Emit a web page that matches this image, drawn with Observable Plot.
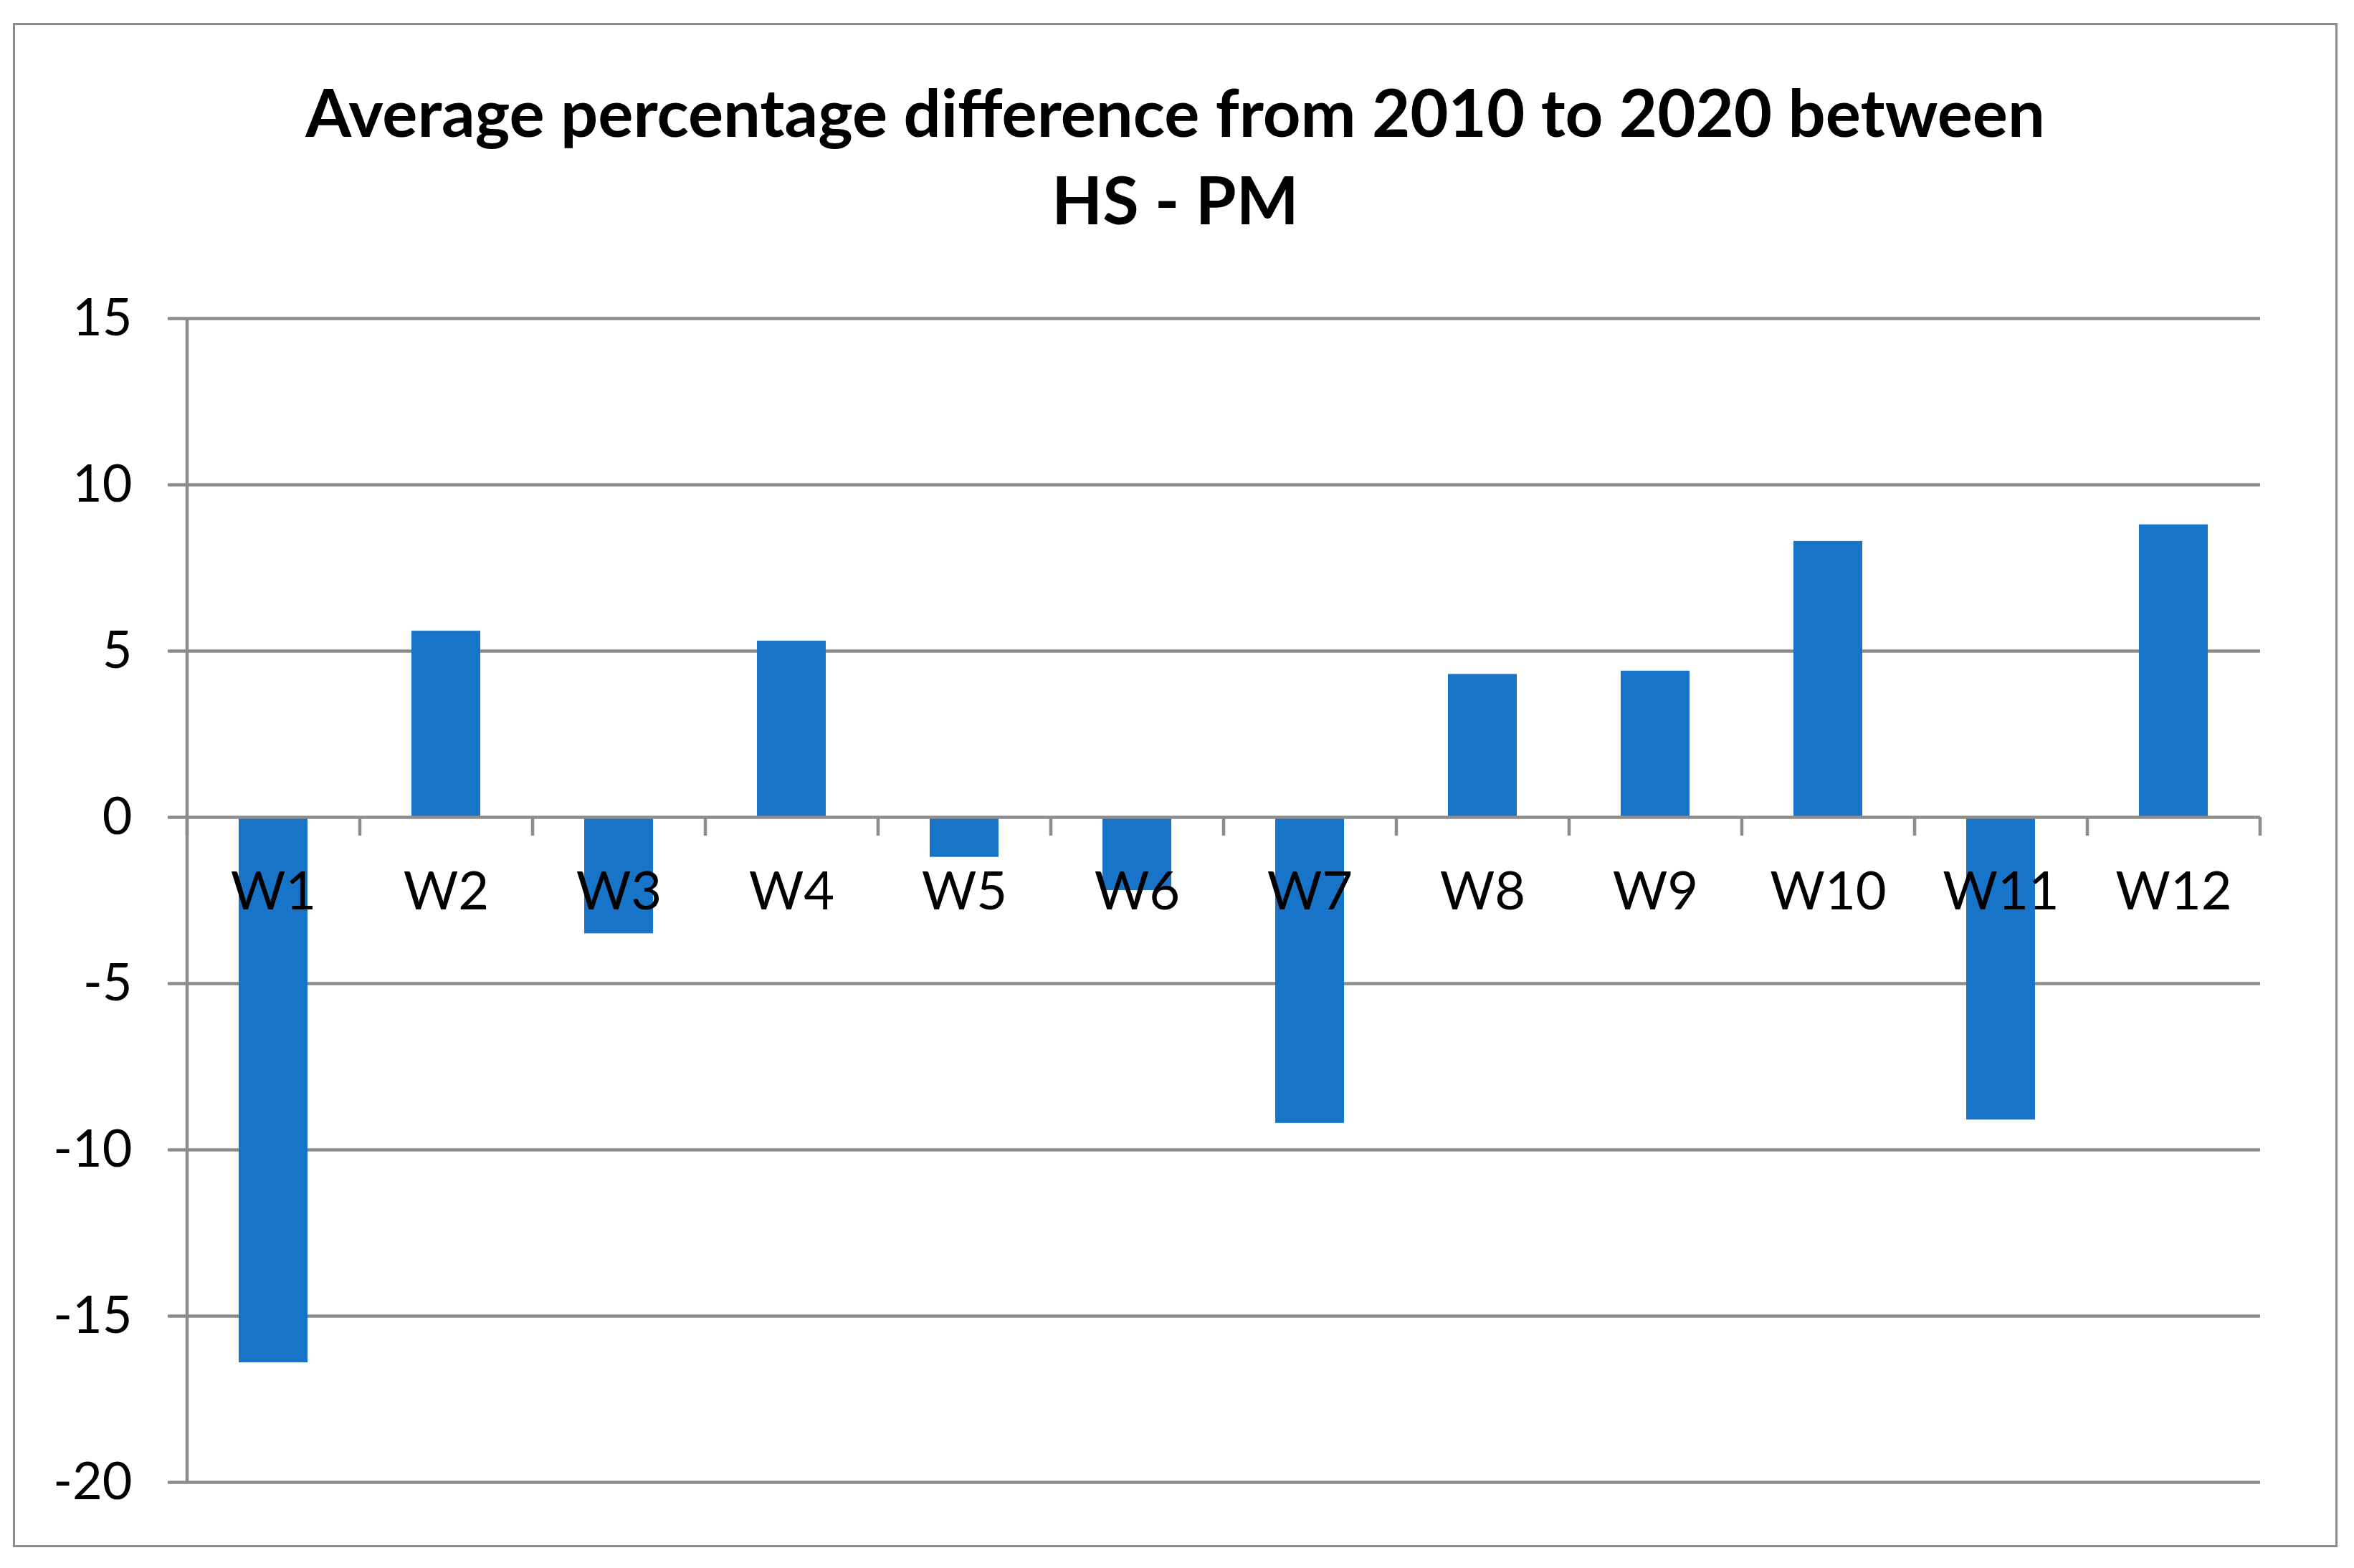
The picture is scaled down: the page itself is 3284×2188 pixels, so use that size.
<!DOCTYPE html>
<html>
<head>
<meta charset="utf-8">
<script src="https://cdn.jsdelivr.net/npm/d3@7"></script>
<script src="https://cdn.jsdelivr.net/npm/@observablehq/plot@0.6"></script>
<style>
  html, body { margin: 0; padding: 0; background: #fff; }
  body { width: 3284px; height: 2188px; position: relative; overflow: hidden; font-family: Lato, "Open Sans", sans-serif; }
  #frame { position: absolute; left: 18px; top: 32px; width: 3243px; height: 2127px; border: 3.5px solid #8c8c8c; box-sizing: border-box; }
  #title { position: absolute; left: 18px; width: 3243px; top: 95px; text-align: center; font-family: Lato, sans-serif; font-weight: 700; font-size: 92px; line-height: 122px; color: #000; }
  #chart { position: absolute; left: 0; top: 380px; }
</style>
</head>
<body>
<div id="frame"></div>
<div id="title">Average percentage difference from 2010 to 2020 between<br>HS - PM</div>
<div id="chart"></div>
<script>
const categories = ["W1","W2","W3","W4","W5","W6","W7","W8","W9","W10","W11","W12"];
const values = [-16.4, 5.6, -3.5, 5.3, -1.2, -2.2, -9.2, 4.3, 4.4, 8.3, -9.1, 8.8];
const yTicks = [-20, -15, -10, -5, 0, 5, 10, 15];

const data = categories.map((c, i) => ({cat: c, value: values[i]}));

const W = 3284, H = 1760;
const mL = 261, mR = 131, mT = 64, mB = 72;
const step = (W - mL - mR) / categories.length;
const grid = "#8c8c8c";
const barColor = "#1874C8";
const sw = 4.5;

const chart = Plot.plot({
  width: W,
  height: H,
  marginLeft: mL,
  marginRight: mR,
  marginTop: mT,
  marginBottom: mB,
  style: {fontFamily: "Lato, 'Open Sans', sans-serif", background: "transparent", overflow: "visible"},
  x: {domain: categories, paddingInner: 0.6, paddingOuter: 0.3, axis: null},
  y: {domain: [-20, 15], ticks: yTicks},
  marks: [
    Plot.ruleY(yTicks.filter(t => t !== 0), {stroke: grid, strokeWidth: sw}),
    Plot.axisY({ticks: yTicks, tickSize: 27, tickPadding: 50, stroke: grid, strokeWidth: sw, fontSize: 72, fill: "#000", label: null, tickFormat: d => String(d)}),
    Plot.ruleX([categories[0]], {x: d => d, dx: -step / 2, stroke: grid, strokeWidth: sw}),
    Plot.barY(data, {x: "cat", y: "value", fill: barColor}),
    Plot.ruleY([0], {stroke: grid, strokeWidth: sw}),
    Plot.ruleX(categories, {x: d => d, dx: -step / 2, y1: 0, y2: 0, insetBottom: -26, stroke: grid, strokeWidth: sw}),
    Plot.ruleX([categories[categories.length - 1]], {x: d => d, dx: step / 2, y1: 0, y2: 0, insetBottom: -26, stroke: grid, strokeWidth: sw}),
    Plot.text(data, {x: "cat", y: () => 0, text: "cat", dy: 105, fontSize: 74, fill: "#000", lineAnchor: "middle", textAnchor: "middle"})
  ]
});
document.getElementById("chart").appendChild(chart);
</script>
</body>
</html>
